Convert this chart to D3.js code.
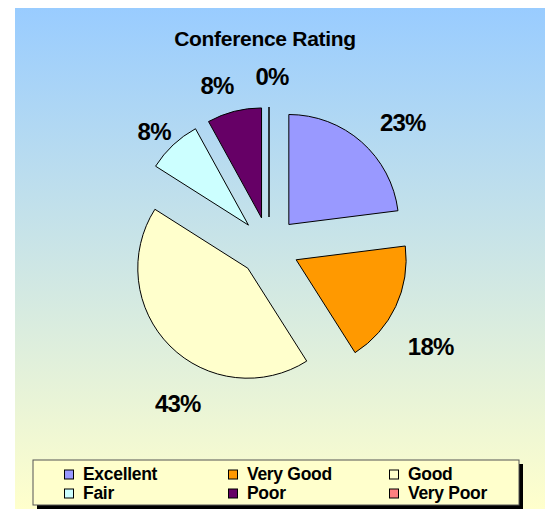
<!DOCTYPE html>
<html>
<head>
<meta charset="utf-8">
<script src="https://cdn.jsdelivr.net/npm/d3@7"></script>
<style>
  html, body { margin: 0; padding: 0; background: #ffffff; }
  svg { display: block; font-family: "Liberation Sans", Arial, sans-serif; }
</style>
</head>
<body>
<svg id="chart" width="545" height="509"></svg>
<script>
// ---- data ----
const categories = ["Excellent", "Very Good", "Good", "Fair", "Poor", "Very Poor"];
const values = [23, 18, 43, 8, 8, 0];
const percentLabels = ["23%", "18%", "43%", "8%", "8%", "0%"];
const colors = ["#9999FF", "#FF9900", "#FFFFCC", "#CCFFFF", "#660066", "#FF8080"];
const title = "Conference Rating";

// ---- layout (not data) ----
const W = 545, H = 509;
const cx = 269, cy = 247, R = 110, explode = 30;
const labelAngleNudge = [5.6, 6.5, -14.7, -1.6, -3.4, 1];   // degrees
const labelRadius = [183, 190, 181, 163, 170, 170];

const svg = d3.select("#chart");
const defs = svg.append("defs");
const grad = defs.append("linearGradient").attr("id", "bg")
  .attr("x1", 0).attr("y1", 0).attr("x2", 0).attr("y2", 1);
grad.append("stop").attr("offset", "0%").attr("stop-color", "#99CCFF");
grad.append("stop").attr("offset", "100%").attr("stop-color", "#FFFFCC");

svg.append("rect").attr("x", 15).attr("y", 8).attr("width", W - 15).attr("height", H - 8)
  .attr("fill", "url(#bg)");

svg.append("text").attr("x", 265).attr("y", 46).attr("text-anchor", "middle")
  .attr("font-size", 21).attr("font-weight", "bold").attr("letter-spacing", -0.3).attr("fill", "#000")
  .text(title);

const pie = d3.pie().sort(null).value(d => d);
const arcs = pie(values);
const arc = d3.arc().innerRadius(0).outerRadius(R);
const g = svg.append("g").attr("transform", `translate(${cx},${cy})`);

arcs.forEach((a, i) => {
  const mid = (a.startAngle + a.endAngle) / 2;
  const dx = explode * Math.sin(mid), dy = -explode * Math.cos(mid);
  g.append("path")
    .attr("transform", `translate(${dx},${dy})`)
    .attr("d", a.endAngle - a.startAngle > 0 ? arc(a) :
      `M0,0L${R * Math.sin(a.startAngle)},${-R * Math.cos(a.startAngle)}`)
    .attr("fill", colors[i])
    .attr("stroke", "#000").attr("stroke-width", a.endAngle - a.startAngle > 0 ? 1 : 1.5);
  const la = mid + labelAngleNudge[i] * Math.PI / 180;
  g.append("text")
    .attr("x", labelRadius[i] * Math.sin(la))
    .attr("y", -labelRadius[i] * Math.cos(la))
    .attr("dy", "0.35em")
    .attr("text-anchor", "middle")
    .attr("font-size", 24).attr("font-weight", "bold").attr("letter-spacing", -0.8)
    .attr("fill", "#000")
    .text(percentLabels[i]);
});

// ---- legend ----
const lg = svg.append("g");
const lx = 33, ly = 460, lw = 486, lh = 45;
lg.append("rect").attr("x", lx + 4).attr("y", ly + 4).attr("width", lw).attr("height", lh).attr("fill", "#000");
lg.append("rect").attr("x", lx).attr("y", ly).attr("width", lw).attr("height", lh)
  .attr("fill", "#FFFFCC").attr("stroke", "#555555").attr("stroke-width", 1);
const colX = [64, 228, 389];
const rowY = [474, 493];
categories.forEach((c, i) => {
  const col = i % 3, row = Math.floor(i / 3);
  lg.append("rect").attr("x", colX[col] + 0.5).attr("y", rowY[row] - 4.5 + 0.5)
    .attr("width", 9).attr("height", 9)
    .attr("fill", colors[i]).attr("stroke", "#000").attr("stroke-width", 1);
  lg.append("text").attr("x", colX[col] + 19).attr("y", rowY[row]).attr("dy", "0.36em")
    .attr("font-size", 17.5).attr("font-weight", "bold").attr("letter-spacing", -0.3)
    .attr("fill", "#000").text(c);
});
</script>
</body>
</html>
